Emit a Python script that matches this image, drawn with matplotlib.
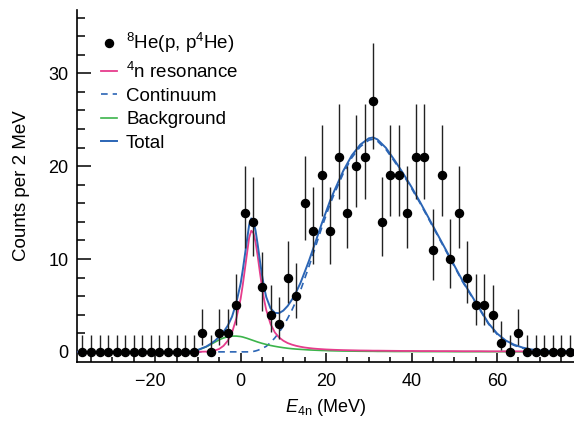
import matplotlib
matplotlib.use('Agg')
import matplotlib.pyplot as plt
from matplotlib.lines import Line2D
import numpy as np

plt.rcParams['font.family'] = 'Liberation Sans'
plt.rcParams['mathtext.fontset'] = 'custom'
plt.rcParams['mathtext.rm'] = 'Liberation Sans'
plt.rcParams['mathtext.it'] = 'Liberation Sans:italic'

# measured spectrum, 2 MeV bins
energy = np.arange(-37, 78, 2)
counts = [0] * 14 + [2, 0, 2, 2, 5, 15, 14, 7, 4, 3,
                     8, 6, 16, 13, 19, 13, 21, 15, 20, 21,
                     27, 14, 19, 19, 15, 21, 21, 11, 19, 10,
                     15, 8, 5, 5, 4, 1, 0, 2] + [0] * 6

# fit components
curve_x = [-38, -14, -12, -10, -8, -7, -6, -5, -4, -3, -2, -1, 0, 0.5, 1, 1.5, 2, 2.5,
           3, 3.5, 4, 4.5, 5, 5.5, 6, 7, 8, 9, 10, 11, 12, 13, 14, 15, 16, 17, 18, 19,
           20, 21, 22, 24, 26, 28, 30, 31, 32, 34, 36, 38, 40, 42, 44, 46, 48, 50, 52,
           54, 56, 58, 60, 62, 64, 66, 68, 70, 72, 74, 78]
resonance = [0, 0, 0, 0.01, 0.03, 0.07, 0.15, 0.32, 0.65, 1.2, 2.1, 3.6, 5.7, 7.2, 8.9,
             10.6, 12.3, 13.05, 12.8, 11.8, 10.3, 8.6, 7.0, 5.6, 4.5, 3.0, 2.1, 1.55,
             1.2, 0.95, 0.78, 0.65, 0.55, 0.47, 0.41, 0.36, 0.32, 0.29, 0.26, 0.24,
             0.22, 0.19, 0.17, 0.15, 0.14, 0.13, 0.13, 0.12, 0.11, 0.1, 0.1, 0.09,
             0.09, 0.08, 0.08, 0.08, 0.07, 0.07, 0.07, 0.06, 0.06, 0.06, 0.06, 0.05,
             0.05, 0.05, 0.05, 0.05, 0.05]
background = [0, 0, 0.04, 0.2, 0.55, 0.8, 1.05, 1.3, 1.5, 1.63, 1.7, 1.7, 1.65, 1.6,
              1.53, 1.46, 1.38, 1.3, 1.22, 1.14, 1.06, 0.99, 0.92, 0.86, 0.8, 0.69,
              0.6, 0.52, 0.45, 0.39, 0.34, 0.3, 0.27, 0.24, 0.21, 0.19, 0.17, 0.15,
              0.14, 0.12, 0.11, 0.09, 0.08, 0.07, 0.06, 0.06, 0.05, 0.05, 0.04, 0.04,
              0.04, 0.03, 0.03, 0.03, 0.03, 0.02, 0.02, 0.02, 0.02, 0.02, 0.02, 0.02,
              0.01, 0.01, 0.01, 0.01, 0.01, 0.01, 0.01]
continuum = [0] * 17 + [0.02, 0.05, 0.1, 0.17, 0.26, 0.36, 0.48, 0.6, 1.0, 1.5, 2.1,
                        2.8, 3.6, 4.5, 5.5, 6.6, 7.9, 9.2, 10.6, 12.0, 13.4, 14.7,
                        16.0, 17.1, 19.2, 20.9, 22.1, 22.8, 22.9, 22.7, 21.8, 20.5,
                        19.1, 17.6, 16.0, 14.3, 12.6, 10.9, 9.2, 7.5, 6.0, 4.5, 3.0,
                        1.9, 1.15, 0.7, 0.4, 0.2, 0.1, 0.05, 0.02, 0]
total = np.array(resonance) + np.array(background) + np.array(continuum)

# poisson errors (Gehrels approximation)
n = np.array(counts, dtype=float)
err_up = np.sqrt(n + 0.75) + 1.0
err_lo = np.zeros_like(n)
pos = n > 0
err_lo[pos] = n[pos] - n[pos] * (1 - 1 / (9 * n[pos]) - 1 / (3 * np.sqrt(n[pos]))) ** 3

pink = '#e63c8c'
blue = '#2b65b5'
green = '#3cb44b'

fig = plt.figure(figsize=(5.74, 4.23), dpi=100)
ax = fig.add_axes([0.134, 0.144, 0.866, 0.832])

l_cont, = ax.plot(curve_x, continuum, color=blue, lw=1.2, ls=(0, (4, 3)), zorder=2)
l_bg, = ax.plot(curve_x, background, color=green, lw=1.2, zorder=2)
l_res, = ax.plot(curve_x, resonance, color=pink, lw=1.3, zorder=3)
l_tot, = ax.plot(curve_x, total, color=blue, lw=1.4, zorder=3)
ax.errorbar(energy, counts, yerr=[err_lo, err_up], fmt='o', color='black', ms=5.8,
            ecolor='#222222', elinewidth=1.0, capsize=0, zorder=4)
dot = Line2D([], [], marker='o', ls='none', color='black', ms=5.8)

ax.set_xlim(-38.3, 78)
ax.set_ylim(-1.1, 36.8)
ax.spines['top'].set_visible(False)
ax.spines['right'].set_visible(False)
ax.spines['left'].set_linewidth(1.2)
ax.spines['bottom'].set_linewidth(1.2)

ax.set_xticks([-20, 0, 20, 40, 60])
ax.set_xticklabels(['\u221220  ', '0', '20', '40', '60'])
ax.set_xticks(np.arange(-35, 78, 5), minor=True)
ax.set_yticks([0, 10, 20, 30])
ax.set_yticks(np.arange(0, 37, 2), minor=True)
ax.tick_params(axis='both', which='both', direction='in', labelsize=13, width=1.1)
ax.tick_params(axis='x', which='major', length=6.5, pad=8)
ax.tick_params(axis='x', which='minor', length=3.6)
ax.tick_params(axis='y', which='major', length=10, pad=6)
ax.tick_params(axis='y', which='minor', length=5.4)

ax.set_xlabel('$E_{\\mathrm{4n}}$ (MeV)', fontsize=13, labelpad=5)
ax.set_ylabel('Counts per 2 MeV', fontsize=13.5, labelpad=13)

ax.legend([dot, l_res, l_cont, l_bg, l_tot],
          ['$^{8}$He(p, p$^{4}$He)', '$^{4}$n resonance', 'Continuum', 'Background', 'Total'],
          loc='upper left', bbox_to_anchor=(0.048, 0.94), frameon=False,
          fontsize=13.5, handlelength=0.85, handletextpad=0.5, labelspacing=0.33,
          borderpad=0, borderaxespad=0)

fig.savefig('out.png', dpi=100)
